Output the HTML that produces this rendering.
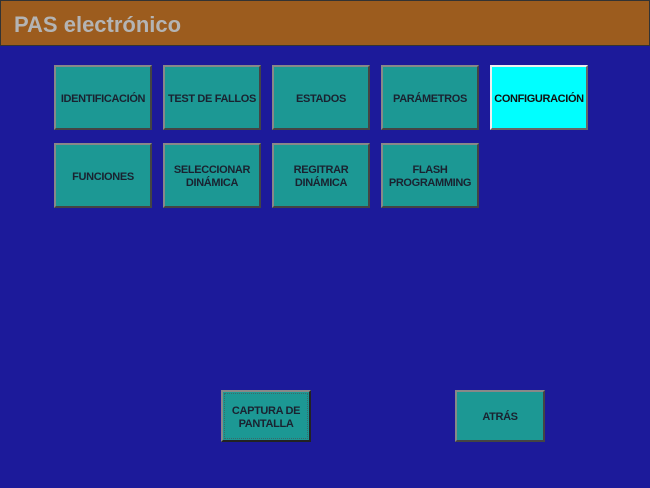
<!DOCTYPE html><html><head><style>
body{margin:0;width:650px;height:488px;background:#1c1a9a;position:relative;overflow:hidden;font-family:"Liberation Sans",sans-serif}
.h{position:absolute;left:0;top:0;width:648px;height:44px;background:#9c5c1e;border:1px solid #333}
.h span{position:absolute;left:13px;top:11px;font-size:22px;font-weight:bold;color:#b4b4b4}
.b{position:absolute;box-sizing:border-box;width:98px;height:65px;padding-top:3px;background:#1c9894;border:2px solid;border-color:#888 #444 #444 #888;display:flex;align-items:center;justify-content:center;text-align:center;font-size:11px;font-weight:bold;color:#1a2230;line-height:13px;letter-spacing:-0.35px}
</style></head><body>
<div class="h"><span>PAS electrónico</span></div>
<div class="b" style="left:54px;top:65px">IDENTIFICACIÓN</div>
<div class="b" style="left:163px;top:65px">TEST DE FALLOS</div>
<div class="b" style="left:272px;top:65px">ESTADOS</div>
<div class="b" style="left:381px;top:65px">PARÁMETROS</div>
<div class="b" style="left:490px;top:65px;background:#00ffff;border-color:#eee #666 #666 #eee;color:#111">CONFIGURACIÓN</div>
<div class="b" style="left:54px;top:143px">FUNCIONES</div>
<div class="b" style="left:163px;top:143px">SELECCIONAR<br>DINÁMICA</div>
<div class="b" style="left:272px;top:143px">REGITRAR<br>DINÁMICA</div>
<div class="b" style="left:381px;top:143px">FLASH<br>PROGRAMMING</div>
<div class="b" style="left:221px;top:390px;width:90px;height:52px;border-color:#888 #222 #222 #888;outline:1px dotted #3a6a6a;outline-offset:-4px">CAPTURA DE<br>PANTALLA</div>
<div class="b" style="left:455px;top:390px;width:90px;height:52px">ATRÁS</div>
</body></html>
